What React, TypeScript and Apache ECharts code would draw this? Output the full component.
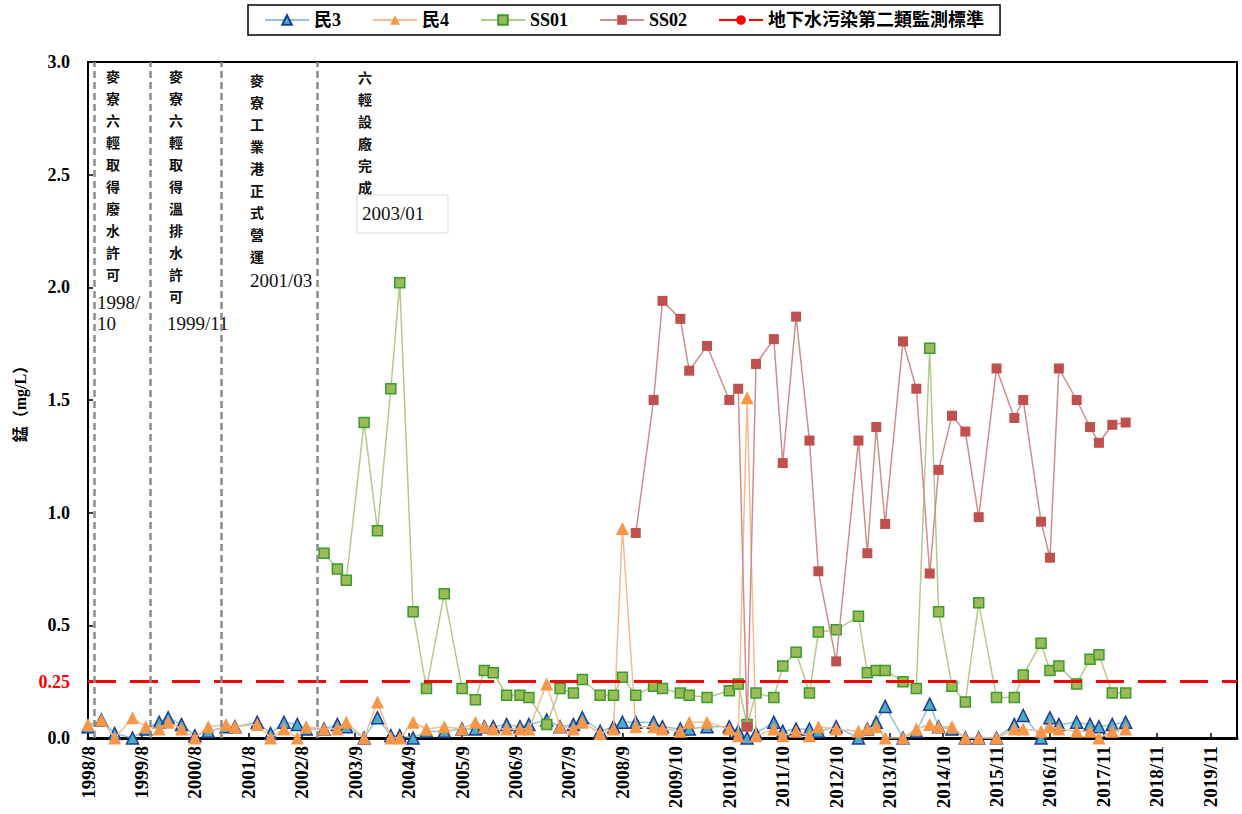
import React, { useEffect, useRef } from "react";
import * as echarts from "echarts";

// x-axis tick labels (one every 12 months, starting 1998/8)
const tickLabels = [
  "1998/8", "1999/8", "2000/8", "2001/8", "2002/8", "2003/9", "2004/9", "2005/9",
  "2006/9", "2007/9", "2008/9", "2009/10", "2010/10", "2011/10", "2012/10", "2013/10",
  "2014/10", "2015/11", "2016/11", "2017/11", "2018/11", "2019/11",
];

// sampling time, months after 1998/8
const sampleMonths = [
  0, 3, 6, 10, 13, 16, 18, 21, 24, 27,
  31, 33, 38, 41, 44, 47, 49, 53, 56, 58,
  62, 65, 68, 70, 73, 76, 80, 84, 87, 89,
  91, 94, 97, 99, 103, 106, 109, 111, 115, 118,
  120, 123, 127, 129, 133, 135, 139, 144, 146, 148,
  150, 154, 156, 159, 162, 164, 168, 173, 175, 177,
  179, 183, 186, 189, 191, 194, 197, 200, 204, 208,
  210, 214, 216, 218, 222, 225, 227, 230, 233,
];

const min3 = [
  0.05, 0.08, 0.02, 0.0, 0.04, 0.07, 0.09, 0.06, 0.01, 0.03,
  0.05, 0.05, 0.07, 0.02, 0.07, 0.06, 0.04, 0.04, 0.06, 0.05,
  0.0, 0.09, 0.01, 0.01, 0.0, 0.03, 0.03, 0.04, 0.04, 0.05,
  0.05, 0.06, 0.05, 0.06, 0.08, 0.05, 0.06, 0.09, 0.03, 0.05,
  0.07, 0.07, 0.07, 0.05, 0.04, 0.04, 0.05, 0.05, 0.03, 0.0,
  0.02, 0.07, 0.03, 0.04, 0.04, 0.03, 0.05, 0.0, 0.04, 0.07,
  0.14, 0.0, 0.03, 0.15, 0.05, 0.04, 0.0, 0.0, 0.0, 0.06,
  0.1, 0.0, 0.09, 0.06, 0.07, 0.06, 0.05, 0.06, 0.07,
];

const min4 = [
  0.06, 0.08, 0.0, 0.09, 0.05, 0.04, 0.07, 0.04, 0.0, 0.05,
  0.06, 0.05, 0.06, 0.0, 0.04, 0.0, 0.05, 0.04, 0.04, 0.07,
  0.0, 0.16, 0.0, 0.0, 0.07, 0.04, 0.05, 0.04, 0.07, 0.05,
  0.04, 0.04, 0.04, 0.04, 0.24, 0.05, 0.04, 0.07, 0.02, 0.04,
  0.93, 0.05, 0.05, 0.04, 0.03, 0.07, 0.07, 0.04, 0.01, 1.51,
  0.01, 0.04, 0.01, 0.03, 0.01, 0.05, 0.04, 0.03, 0.04, 0.05,
  0.0, 0.0, 0.04, 0.06, 0.05, 0.05, 0.0, 0.0, 0.0, 0.04,
  0.04, 0.03, 0.05, 0.04, 0.03, 0.03, 0.0, 0.03, 0.04,
];

const ss01 = [
  null, null, null, null, null, null, null, null, null, null,
  null, null, null, null, null, null, null, 0.82, 0.75, 0.7,
  1.4, 0.92, 1.55, 2.02, 0.56, 0.22, 0.64, 0.22, 0.17, 0.3,
  0.29, 0.19, 0.19, 0.18, 0.06, 0.22, 0.2, 0.26, 0.19, 0.19,
  0.27, 0.19, 0.23, 0.22, 0.2, 0.19, 0.18, 0.21, 0.24, 0.06,
  0.2, 0.18, 0.32, 0.38, 0.2, 0.47, 0.48, 0.54, 0.29, 0.3,
  0.3, 0.25, 0.22, 1.73, 0.56, 0.23, 0.16, 0.6, 0.18, 0.18,
  0.28, 0.42, 0.3, 0.32, 0.24, 0.35, 0.37, 0.2, 0.2,
];

const ss02 = [
  null, null, null, null, null, null, null, null, null, null,
  null, null, null, null, null, null, null, null, null, null,
  null, null, null, null, null, null, null, null, null, null,
  null, null, null, null, null, null, null, null, null, null,
  null, 0.91, 1.5, 1.94, 1.86, 1.63, 1.74, 1.5, 1.55, 0.05,
  1.66, 1.77, 1.22, 1.87, 1.32, 0.74, 0.34, 1.32, 0.82, 1.38,
  0.95, 1.76, 1.55, 0.73, 1.19, 1.43, 1.36, 0.98, 1.64, 1.42,
  1.5, 0.96, 0.8, 1.64, 1.5, 1.38, 1.31, 1.39, 1.4,
];

const standardValue = 0.25;
const standardName = "地下水污染第二類監測標準";

// event lines (months after 1998/8)
const eventMonths = [1.3, 14, 30, 51.5];

const SERIF = "'Liberation Serif', 'Times New Roman', 'Noto Sans CJK TC', serif";
const CJK = "'Noto Sans CJK TC', sans-serif";

function pairs(vals: (number | null)[]) {
  return sampleMonths.map((m, i) => [m, vals[i] === null ? null : vals[i]]);
}

export default function App() {
  const ref = useRef<HTMLDivElement>(null);
  useEffect(() => {
    if (!ref.current) return;
    const chart = echarts.init(ref.current, undefined, { renderer: "svg" });

    const vText = (s: string) => s.split("").join("\n");
    const colText = (text: string, x: number, y: number) => ({
      type: "text",
      x,
      y,
      style: {
        text: vText(text),
        fontFamily: CJK,
        fontWeight: "bold",
        fontSize: 14,
        lineHeight: 22,
        fill: "#111",
        textAlign: "center",
        textVerticalAlign: "top",
      },
    });
    const dateText = (text: string, x: number, y: number) => ({
      type: "text",
      x,
      y,
      style: {
        text,
        fontFamily: SERIF,
        fontSize: 19,
        lineHeight: 21,
        fill: "#111",
        textAlign: "left",
        textVerticalAlign: "top",
      },
    });

    const option: any = {
      animation: false,
      backgroundColor: "#fff",
      grid: {
        left: 88,
        right: 5,
        top: 62,
        bottom: 76,
        show: true,
        borderColor: "#000",
        borderWidth: 2,
      },
      legend: {
        top: 5,
        left: 248,
        padding: [6, 16],
        borderColor: "#000",
        borderWidth: 1.5,
        itemGap: 31,
        itemWidth: 44,
        itemHeight: 12,
        textStyle: { fontFamily: SERIF, fontWeight: "bold", fontSize: 18, color: "#000" },
        data: ["民3", "民4", "SS01", "SS02", standardName],
      },
      xAxis: {
        type: "value",
        min: 0,
        max: 258,
        interval: 12,
        splitLine: { show: false },
        axisLine: { lineStyle: { color: "#000", width: 3 } },
        axisTick: { inside: true, length: 5, lineStyle: { color: "#000", width: 1.5 } },
        axisLabel: {
          rotate: 90,
          margin: 8,
          fontFamily: SERIF,
          fontWeight: "bold",
          fontSize: 19,
          color: "#000",
          showMaxLabel: false,
          formatter: (v: number) => (v % 12 === 0 && tickLabels[v / 12] ? tickLabels[v / 12] : ""),
        },
      },
      yAxis: {
        type: "value",
        min: 0,
        max: 3,
        interval: 0.5,
        name: "錳（mg/L）",
        nameLocation: "middle",
        nameRotate: 90,
        nameGap: 60,
        nameTextStyle: { fontFamily: SERIF, fontWeight: "bold", fontSize: 16, color: "#000" },
        splitLine: { show: false },
        axisLine: { show: true, lineStyle: { color: "#000", width: 2 } },
        axisTick: { show: true, inside: true, length: 5, lineStyle: { color: "#000", width: 1.5 } },
        axisLabel: {
          margin: 18,
          fontFamily: SERIF,
          fontWeight: "bold",
          fontSize: 18,
          color: "#000",
          formatter: (v: number) => v.toFixed(1),
        },
      },
      series: [
        {
          name: "民3",
          type: "line",
          data: pairs(min3),
          symbol: "triangle",
          symbolSize: 12,
          lineStyle: { color: "#8fc6d8", width: 1.5 },
          itemStyle: { color: "#4bacc6", borderColor: "#1f3a93", borderWidth: 1.5 },
          z: 2,
        },
        {
          name: "民4",
          type: "line",
          data: pairs(min4),
          symbol: "triangle",
          symbolSize: 13,
          lineStyle: { color: "#f5bb92", width: 1.5 },
          itemStyle: { color: "#f79646", borderColor: "#f79646", borderWidth: 0 },
          z: 3,
        },
        {
          name: "SS01",
          type: "line",
          data: pairs(ss01),
          symbol: "rect",
          symbolSize: 10,
          lineStyle: { color: "#b2cb8a", width: 1.5 },
          itemStyle: { color: "#9bbb59", borderColor: "#3c9a2d", borderWidth: 1.5 },
          z: 4,
        },
        {
          name: "SS02",
          type: "line",
          data: pairs(ss02),
          symbol: "rect",
          symbolSize: 10,
          lineStyle: { color: "#cf8e8e", width: 1.5 },
          itemStyle: { color: "#c0504d", borderColor: "#c0504d", borderWidth: 0 },
          z: 5,
        },
        {
          name: standardName,
          type: "line",
          data: [],
          symbol: "none",
          lineStyle: { color: "#ff0000", width: 3, type: [20, 10] },
          itemStyle: { color: "#ff0000" },
          z: 1,
          markLine: {
            silent: true,
            symbol: "none",
            animation: false,
            data: [
              {
                yAxis: standardValue,
                lineStyle: { color: "#ff0000", width: 3, type: [28, 14] },
                label: {
                  show: true,
                  position: "start",
                  distance: 18,
                  formatter: "0.25",
                  color: "#ff0000",
                  fontFamily: SERIF,
                  fontWeight: "bold",
                  fontSize: 18,
                },
              },
              ...eventMonths.map((m) => ({
                xAxis: m,
                lineStyle: { color: "#8c8c8c", width: 2.5, type: [7, 4] },
                label: { show: false },
              })),
            ],
          },
        },
      ],
      graphic: [
        colText("麥寮六輕取得廢水許可", 113, 65),
        dateText("1998/\n10", 97, 292),
        colText("麥寮六輕取得溫排水許可", 176, 65),
        dateText("1999/11", 167, 313),
        colText("麥寮工業港正式營運", 257, 69),
        dateText("2001/03", 250, 270),
        colText("六輕設廠完成", 365, 66),
        {
          type: "rect",
          shape: { x: 357, y: 195, width: 91, height: 38 },
          style: { fill: "#fff", stroke: "#d9d9d9", lineWidth: 1 },
        },
        dateText("2003/01", 362, 203),
      ],
    };
    chart.setOption(option);
    return () => chart.dispose();
  }, []);
  return (
    <div
      ref={ref}
      style={{ position: "fixed", left: 0, top: 0, width: 1242, height: 814, background: "#fff" }}
    />
  );
}
